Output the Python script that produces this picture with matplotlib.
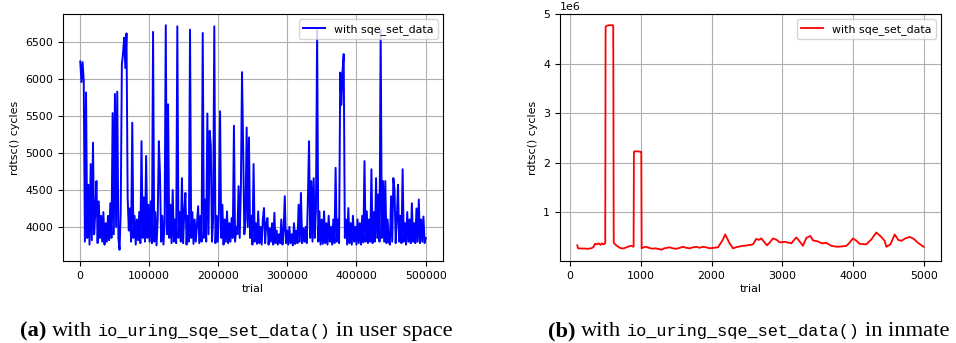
import numpy as np
import matplotlib
matplotlib.use("Agg")
import matplotlib.pyplot as plt

# --- (a) user space: rdtsc() cycles per trial (sampled every ~1670 trials)
user_trials = np.linspace(1000, 500000, 300)
user_cycles = [
    6240, 5960, 6230, 5980, 3800, 5820, 3850, 4570, 3760, 4850,
    3820, 5140, 3900, 4200, 4620, 3780, 4345, 3850, 4150, 3800,
    4200, 3760, 4050, 3800, 4150, 3820, 4320, 3850, 5540, 3900,
    5800, 4000, 5830, 3850, 3690, 4200, 6200, 6350, 6560, 6150,
    6620, 4400, 3950, 4250, 3800, 5410, 3850, 4150, 3760, 4100,
    3820, 4200, 3780, 5160, 3850, 4400, 3800, 4960, 3850, 4300,
    3800, 4345, 3780, 6640, 3800, 4200, 3750, 4100, 5160, 4710,
    3800, 4150, 3760, 4050, 6730, 3900, 5660, 3850, 4300, 3780,
    4500, 3800, 4100, 3780, 6715, 3850, 4200, 3800, 4660, 3780,
    4200, 4460, 3760, 4150, 3800, 6670, 3850, 4200, 3770, 4100,
    3800, 4050, 4280, 3780, 4150, 3800, 6625, 3850, 4370, 3800,
    5535, 3900, 5300, 5100, 3800, 4100, 6715, 3780, 4150, 3800,
    4200, 5565, 3850, 4300, 3760, 4100, 3800, 4210, 3780, 4050,
    3800, 4120, 3850, 5370, 3800, 4000, 3900, 4550, 3850, 4520,
    6095, 5050, 3900, 4100, 5345, 4000, 5210, 3850, 4150, 3760,
    4850, 3800, 4050, 3770, 4210, 3780, 4000, 3760, 4100, 4255,
    3780, 4050, 4120, 3760, 3980, 3800, 4050, 3760, 4190, 3780,
    3950, 3760, 3900, 3780, 4100, 3760, 3950, 4415, 3780, 3950,
    3760, 4000, 3780, 3900, 3750, 4050, 3770, 3950, 3780, 4300,
    3800, 4460, 3780, 3980, 3800, 4000, 3780, 4370, 5160, 3850,
    4620, 3800, 4660, 3850, 4250, 6660, 3800, 4210, 3760, 4100,
    3770, 4210, 3780, 4050, 3760, 4150, 3800, 4000, 3760, 4100,
    3780, 4800, 3800, 4100, 3780, 6090, 5650, 6110, 6340, 3850,
    4100, 3760, 4255, 3780, 4050, 3760, 4150, 3800, 4000, 3760,
    4100, 3780, 4050, 3760, 4150, 3790, 4890, 3800, 4210, 3780,
    4100, 3800, 4780, 3780, 4200, 3800, 4660, 3850, 4440, 3800,
    6660, 3850, 4620, 3800, 4620, 3780, 4100, 3800, 3760, 4415,
    3800, 4660, 4500, 3780, 4100, 4570, 3800, 4150, 3780, 4780,
    3800, 4050, 3760, 4200, 3800, 4100, 3780, 4320, 3800, 4050,
    3780, 4250, 3800, 4370, 3780, 4100, 3800, 4140, 3780, 3850,
]

# --- (b) inmate: rdtsc() cycles per trial (in 1e6)
inmate_trials = [
    100, 110, 150, 200, 250, 300, 330, 350, 380, 400, 430, 450, 470, 495,
    500, 520, 550, 600, 608, 615, 650, 700, 745, 800, 830, 863, 896, 901,
    910, 950, 1000, 1005, 1010, 1040, 1075, 1110, 1140, 1170, 1200, 1240,
    1290, 1330, 1370, 1405, 1450, 1500, 1550, 1595, 1640, 1690, 1740, 1783,
    1830, 1877, 1920, 1972, 2030, 2090, 2150, 2193, 2250, 2302, 2370, 2443,
    2510, 2585, 2632, 2670, 2703, 2783, 2830, 2868, 2920, 2962, 3040, 3127,
    3198, 3250, 3292, 3340, 3396, 3434, 3500, 3560, 3623, 3693, 3780, 3858,
    3906, 3950, 4000, 4050, 4094, 4189, 4260, 4330, 4400, 4448, 4472, 4530,
    4590, 4640, 4684, 4740, 4802, 4860, 4920, 4990, 5000,
]
inmate_cycles = [
    0.33, 0.27, 0.265, 0.265, 0.26, 0.27, 0.30, 0.36, 0.35, 0.37, 0.34, 0.37, 0.35, 0.37,
    4.75, 4.77, 4.78, 4.78, 4.77, 0.38, 0.33, 0.28, 0.265, 0.29, 0.31, 0.32, 0.30, 2.22,
    2.23, 2.23, 2.22, 2.22, 0.27, 0.29, 0.30, 0.28, 0.27, 0.26, 0.27, 0.26,
    0.24, 0.27, 0.28, 0.29, 0.27, 0.26, 0.28, 0.30, 0.28, 0.27, 0.29, 0.30,
    0.28, 0.30, 0.29, 0.27, 0.28, 0.29, 0.42, 0.55, 0.38, 0.27, 0.30, 0.32,
    0.33, 0.35, 0.46, 0.44, 0.47, 0.33, 0.40, 0.47, 0.44, 0.39, 0.40, 0.37,
    0.49, 0.40, 0.32, 0.48, 0.52, 0.43, 0.41, 0.37, 0.38, 0.32, 0.30, 0.31,
    0.32, 0.38, 0.47, 0.42, 0.36, 0.35, 0.45, 0.59, 0.50, 0.42, 0.30, 0.35,
    0.55, 0.44, 0.42, 0.47, 0.50, 0.46, 0.38, 0.31, 0.30,
]

W, H = 956, 343
fig = plt.figure(figsize=(W / 100, H / 100), dpi=100)
fs = 7.9

ax1 = fig.add_axes([63 / W, 82 / H, 380 / W, 247 / H])
ax1.plot(user_trials, user_cycles, color="blue", lw=1.4, label="with sqe_set_data")

ax2 = fig.add_axes([560 / W, 82 / H, 381 / W, 247 / H])
ax2.plot(inmate_trials, np.array(inmate_cycles) * 1e6, color="red", lw=1.3,
         label="with sqe_set_data")

for ax in (ax1, ax2):
    ax.grid(True)
    ax.set_xlabel("trial", fontsize=fs, labelpad=2)
    ax.set_ylabel("rdtsc() cycles", fontsize=fs)
    ax.tick_params(labelsize=fs)
    ax.legend(loc="upper right", fontsize=fs)
    ax.yaxis.get_offset_text().set_fontsize(fs)

# subfigure captions: serif text with a monospace function name
renderer = fig.canvas.get_renderer()
serif = "Liberation Serif"
mono = "Liberation Mono"


def caption(x0, letter, tail):
    parts = [
        (letter, dict(family=serif, fontsize=16.2, weight="bold")),
        ("with", dict(family=serif, fontsize=16.2)),
        ("io_uring_sqe_set_data()", dict(family=mono, fontsize=12.2)),
        (tail, dict(family=serif, fontsize=16.2)),
    ]
    x = x0
    for s, kw in parts:
        t = fig.text(x / W, 7 / H, s, va="baseline", ha="left", **kw)
        x += t.get_window_extent(renderer).width + 5.5


caption(20, "(a)", "in user space")
caption(548, "(b)", "in inmate")

fig.savefig("out.png", dpi=100)
